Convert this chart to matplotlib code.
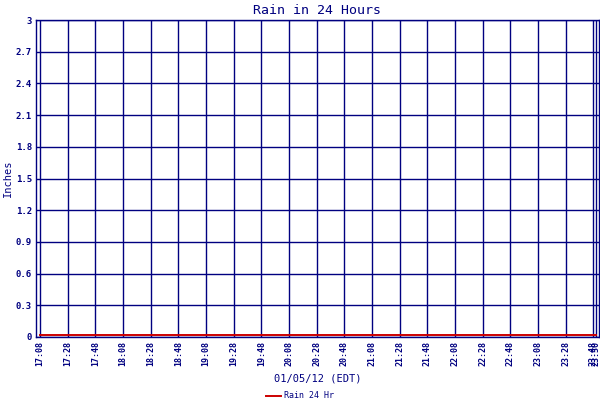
import matplotlib
matplotlib.use("Agg")
import matplotlib.pyplot as plt

# readings (time, inches of rain over the last 24 hours)
times = ["17:08", "17:28", "17:48", "18:08", "18:28", "18:48", "19:08", "19:28",
         "19:48", "20:08", "20:28", "20:48", "21:08", "21:28", "21:48", "22:08",
         "22:28", "22:48", "23:08", "23:28", "23:48", "23:50"]
rain = [0.02, 0.02, 0.02, 0.02, 0.02, 0.02, 0.02, 0.02, 0.02, 0.02, 0.02,
        0.02, 0.02, 0.02, 0.02, 0.02, 0.02, 0.02, 0.02, 0.02, 0.02, 0.02]

tick_labels = times
y_ticks = [0, 0.3, 0.6, 0.9, 1.2, 1.5, 1.8, 2.1, 2.4, 2.7, 3]
x_start, x_end = "17:05", "23:52"

NAVY = "#000080"
FONT = "DejaVu Sans Mono"


def to_min(t):
    h, m = t.split(":")
    return int(h) * 60 + int(m)


xs = [to_min(t) for t in times]

fig = plt.figure(figsize=(6, 4), dpi=100)
ax = fig.add_axes([0.06, 0.1575, 0.938, 0.7925])

ax.plot(xs, rain, color="#cc0000", lw=1.4, label="Rain 24 Hr", zorder=3)

ax.set_xlim(to_min(x_start), to_min(x_end))
ax.set_ylim(0, 3)
ax.set_xticks([to_min(t) for t in tick_labels])
ax.set_xticklabels(tick_labels, rotation=90, fontsize=6, family=FONT,
                   color=NAVY, fontweight="bold")
ax.set_yticks(y_ticks)
ax.set_yticklabels([f"{v:g}" for v in y_ticks], fontsize=6.5, family=FONT,
                   color=NAVY, fontweight="bold")
ax.tick_params(length=0, pad=3)
ax.grid(True, color=NAVY, lw=1)
ax.set_axisbelow(True)
for s in ax.spines.values():
    s.set_color(NAVY)
    s.set_linewidth(1)

ax.set_title("Rain in 24 Hours", fontsize=9.5, family=FONT, color=NAVY, pad=4)
ax.set_ylabel("Inches", fontsize=7.5, family=FONT, color=NAVY, labelpad=2)
ax.set_xlabel("01/05/12 (EDT)", fontsize=7.5, family=FONT, color=NAVY, labelpad=5)

fig.legend(loc="lower center", bbox_to_anchor=(0.5, -0.02), frameon=False,
           prop={"family": FONT, "size": 6}, handlelength=1.8, handletextpad=0.4,
           labelcolor=NAVY)

fig.savefig("out.png", dpi=100, facecolor="white")
